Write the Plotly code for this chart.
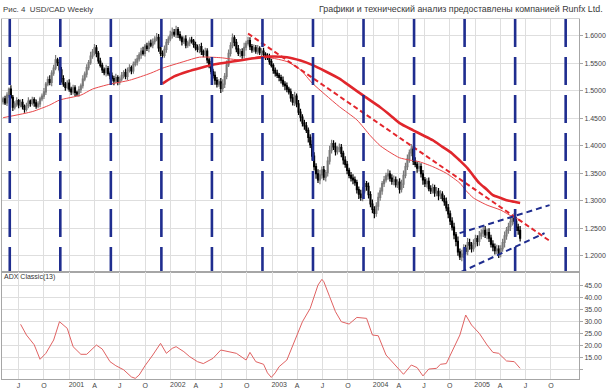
import plotly.graph_objects as go
import pandas as pd

# ---------------- text ----------------
title_left = "Рис. 4  USD/CAD Weekly"
title_right = "Графики и технический анализ предоставлены компанией Runfx Ltd."
adx_label = "ADX Classic(13)"

# ---------------- weekly USD/CAD candles ----------------
first_week = "2000-05-07"
first_open = 1.480
closes = [
    1.485, 1.478, 1.492, 1.503, 1.488, 1.470, 1.476, 1.482, 1.474, 1.479,
    1.471, 1.466, 1.473, 1.481, 1.477, 1.484, 1.478, 1.472, 1.476, 1.485,
    1.490, 1.498, 1.512, 1.520, 1.515, 1.532, 1.541, 1.556, 1.551, 1.538,
    1.522, 1.512, 1.506, 1.514, 1.503, 1.498, 1.505, 1.497, 1.494, 1.502,
    1.509, 1.521, 1.530, 1.542, 1.551, 1.563, 1.570, 1.578, 1.568, 1.554,
    1.546, 1.538, 1.533, 1.540, 1.531, 1.527, 1.522, 1.518, 1.524, 1.516,
    1.521, 1.528, 1.533, 1.526, 1.537, 1.542, 1.536, 1.548, 1.552, 1.558,
    1.565, 1.572, 1.568, 1.581, 1.577, 1.586, 1.583, 1.589, 1.594, 1.597,
    1.578, 1.568, 1.564, 1.575, 1.588, 1.594, 1.601, 1.606, 1.603, 1.611,
    1.602, 1.596, 1.589, 1.594, 1.583, 1.587, 1.592, 1.590, 1.584, 1.578,
    1.575, 1.580, 1.571, 1.566, 1.572, 1.556, 1.548, 1.535, 1.528, 1.519,
    1.512, 1.516, 1.504, 1.512, 1.526, 1.547, 1.568, 1.582, 1.596, 1.588,
    1.576, 1.568, 1.571, 1.564, 1.579, 1.586, 1.591, 1.580, 1.574, 1.578,
    1.572, 1.577, 1.569, 1.572, 1.566, 1.563, 1.561, 1.553, 1.546, 1.537,
    1.532, 1.528, 1.524, 1.519, 1.512, 1.509, 1.503, 1.498, 1.487, 1.479,
    1.490, 1.476, 1.461, 1.452, 1.441, 1.436, 1.428, 1.415, 1.402, 1.381,
    1.362, 1.349, 1.338, 1.347, 1.356, 1.343, 1.351, 1.372, 1.391, 1.404,
    1.398, 1.389, 1.394, 1.397, 1.386, 1.374, 1.366, 1.355, 1.346, 1.341,
    1.338, 1.333, 1.320, 1.312, 1.306, 1.318, 1.331, 1.326, 1.311, 1.294,
    1.284, 1.277, 1.290, 1.306, 1.318, 1.331, 1.338, 1.345, 1.349, 1.341,
    1.335, 1.338, 1.329, 1.334, 1.321, 1.330, 1.346, 1.362, 1.376, 1.387,
    1.394, 1.372, 1.366, 1.359, 1.362, 1.349, 1.338, 1.331, 1.335, 1.322,
    1.318, 1.324, 1.314, 1.317, 1.309, 1.312, 1.304, 1.298, 1.287, 1.276,
    1.263, 1.252, 1.238, 1.226, 1.207, 1.198, 1.203, 1.214, 1.208, 1.224,
    1.219, 1.213, 1.222, 1.231, 1.226, 1.236, 1.241, 1.246, 1.238, 1.242,
    1.232, 1.221, 1.216, 1.209, 1.212, 1.204, 1.213, 1.224, 1.236, 1.246,
    1.253, 1.262, 1.268, 1.263, 1.252, 1.246, 1.232,
]
# wick lengths above / below the candle body, in units of 0.001
up_wick = [
    4, 6, 5, 3, 7, 4, 5, 6, 3, 5,  6, 4, 5, 7, 3, 5, 4, 6, 5, 4,
    5, 7, 4, 6, 8, 5, 6, 9, 4, 6,  5, 6, 4, 5, 7, 4, 6, 5, 3, 6,
    4, 7, 5, 6, 5, 8, 6, 7, 5, 4,  6, 5, 4, 7, 5, 4, 6, 5, 7, 4,
    5, 6, 4, 7, 5, 6, 4, 5, 6, 7,  5, 6, 8, 4, 6, 5, 7, 6, 5, 8,
    6, 4, 5, 7, 6, 5, 8, 9, 6, 7,  5, 6, 4, 5, 7, 4, 5, 6, 4, 5,
    6, 5, 7, 4, 6, 5, 4, 6, 5, 7,  6, 5, 7, 9, 6, 8, 7, 6, 8, 5,
    6, 7, 5, 6, 8, 5, 7, 6, 5, 6,  5, 6, 4, 5, 6, 4, 5, 6, 5, 4,
    5, 6, 4, 5, 7, 5, 6, 4, 6, 7,  8, 5, 7, 6, 5, 6, 7, 5, 6, 8,
    7, 6, 8, 9, 6, 7, 5, 8, 9, 7,  6, 8, 5, 7, 6, 5, 7, 6, 5, 6,
    7, 6, 5, 6, 8, 7, 6, 5, 7, 6,  8, 6, 7, 9, 6, 5, 7, 6, 8, 6,
    7, 8, 6, 5, 7, 8, 9, 7, 8, 6,  9, 6, 7, 5, 8, 6, 7, 5, 6, 7,
    6, 7, 5, 8, 6, 7, 5, 6, 8, 7,  6, 7, 8, 5, 9, 6, 8, 7, 6, 8,
    7, 6, 8, 7, 6, 9, 7, 6, 8, 7,  8, 6, 7, 6, 8, 7, 6, 7, 8, 6,
    7, 8, 6, 9, 7, 6, 8,
]
dn_wick = [
    5, 4, 6, 5, 3, 7, 4, 5, 6, 4,  5, 6, 4, 5, 6, 4, 7, 5, 4, 6,
    4, 5, 6, 4, 5, 7, 5, 4, 6, 5,  7, 5, 6, 4, 5, 6, 5, 7, 4, 5,
    6, 5, 4, 6, 5, 4, 5, 6, 7, 5,  4, 6, 5, 7, 4, 6, 5, 8, 4, 6,
    5, 4, 6, 5, 7, 4, 6, 5, 4, 6,  5, 7, 4, 6, 5, 7, 4, 6, 5, 4,
    7, 6, 5, 4, 6, 5, 4, 6, 5, 7,  6, 5, 7, 4, 6, 5, 6, 4, 6, 5,
    5, 7, 6, 5, 4, 6, 7, 5, 6, 8,  6, 5, 8, 6, 7, 5, 4, 6, 5, 7,
    6, 5, 7, 6, 5, 6, 4, 6, 5, 4,  5, 6, 4, 6, 5, 7, 5, 6, 4, 6,
    6, 5, 7, 6, 5, 8, 6, 5, 7, 6,  7, 6, 5, 8, 6, 7, 5, 9, 6, 8,
    7, 9, 6, 8, 7, 6, 8, 7, 6, 5,  6, 7, 5, 6, 7, 8, 6, 7, 5, 6,
    8, 6, 7, 9, 6, 7, 5, 8, 7, 6,  7, 9, 6, 8, 6, 7, 6, 5, 7, 6,
    6, 7, 5, 6, 8, 6, 7, 5, 6, 7,  6, 7, 5, 8, 6, 7, 9, 6, 7, 5,
    6, 5, 7, 6, 8, 6, 5, 7, 6, 8,  7, 6, 8, 9, 7, 6, 8, 7, 6, 7,
    8, 7, 6, 7, 9, 8, 6, 7, 6, 8,  7, 6, 8, 7, 6, 8, 7, 6, 9, 7,
    6, 8, 7, 6, 7, 8, 6,
]

# ---------------- moving averages (week index -> value) ----------------
thin_ma_week = [0, 15, 24, 29, 40, 46, 55, 65, 76, 82, 93, 101, 112, 122, 133, 146,
                153, 159, 166, 173, 182, 189, 194, 199, 204, 209, 214, 221, 228,
                235, 238, 242, 249, 256, 262, 266]
thin_ma = [1.451, 1.462, 1.474, 1.483, 1.492, 1.503, 1.512, 1.519, 1.532, 1.541,
           1.553, 1.561, 1.560, 1.556, 1.562, 1.553, 1.538, 1.514, 1.492, 1.471,
           1.447, 1.418, 1.400, 1.388, 1.378, 1.374, 1.371, 1.362, 1.350, 1.332,
           1.319, 1.305, 1.292, 1.283, 1.271, 1.265]
thick_ma_week = [82, 88, 95, 101, 109, 118, 127, 136, 146, 153, 159, 166, 173, 179,
                 185, 194, 199, 204, 211, 216, 221, 226, 231, 235, 239, 242, 245,
                 249, 252, 256, 259, 263, 266]
thick_ma = [1.513, 1.526, 1.535, 1.541, 1.548, 1.553, 1.558, 1.562, 1.561, 1.555,
            1.547, 1.535, 1.522, 1.507, 1.492, 1.470, 1.456, 1.441, 1.428, 1.419,
            1.410, 1.398, 1.386, 1.373, 1.359, 1.345, 1.332, 1.320, 1.310, 1.305,
            1.301, 1.298, 1.296]

# ---------------- ADX Classic(13) ----------------
adx_week = [9, 12, 16, 19, 22, 26, 29, 33, 36, 40, 43, 48, 51, 55, 58, 62, 66, 68,
            70, 73, 77, 81, 84, 87, 89, 93, 96, 100, 103, 108, 112, 117, 120, 125,
            127, 130, 134, 136, 138, 140, 142, 146, 149, 153, 154, 158, 162, 164,
            165, 168, 171, 174, 178, 182, 187, 190, 193, 197, 201, 206, 210, 213,
            216, 219, 223, 225, 228, 231, 235, 238, 241, 245, 249, 252, 255, 259,
            263, 266]
adx = [28.9, 24.4, 20.3, 14.2, 16.7, 22.3, 30.0, 27.2, 19.5, 16.3, 16.3, 20.2, 18.5,
       13.2, 11.5, 9.8, 6.8, 6.2, 7.6, 11.5, 16.0, 20.9, 16.7, 18.8, 19.5, 17.4,
       15.3, 13.2, 12.4, 14.6, 18.1, 17.1, 16.7, 13.9, 17.1, 13.2, 12.1, 8.5, 6.6,
       8.5, 11.1, 13.9, 20.2, 28.6, 30.0, 35.6, 45.4, 47.8, 46.8, 40.5, 34.2, 30.0,
       29.0, 31.8, 31.4, 24.4, 24.1, 16.0, 12.5, 7.9, 11.8, 10.7, 7.2, 10.1, 10.4,
       12.1, 12.4, 17.4, 24.4, 32.8, 28.6, 25.1, 20.2, 17.1, 16.7, 13.5, 13.2, 10.4]

# ---------------- drawn lines ----------------
cycle_dates = ["2000-05-31", "2000-11-29", "2001-05-30", "2001-11-28", "2002-05-29",
               "2002-11-27", "2003-05-28", "2003-11-26", "2004-05-26", "2004-11-24",
               "2005-05-25", "2005-11-23"]
red_trend_dates = ["2002-10-06", "2005-10-02"]
red_trend_vals = [1.604, 1.225]
upper_channel_dates = ["2004-11-06", "2005-09-26"]
upper_channel_vals = [1.241, 1.292]
lower_channel_dates = ["2004-11-10", "2005-09-08"]
lower_channel_vals = [1.170, 1.241]

# ---------------- axes ----------------
x_range = ["2000-05-03", "2006-01-10"]
price_range = [1.1704, 1.6304]
price_ticks = [1.20, 1.25, 1.30, 1.35, 1.40, 1.45, 1.50, 1.55, 1.60]
adx_range = [5.92, 50.88]
adx_ticks = [10, 15, 20, 25, 30, 35, 40, 45]
adx_ticktext = ["", "15.00", "20.00", "25.00", "30.00", "35.00", "40.00", "45.00"]
quarter_start, quarter_end = "2000-07-01", "2005-10-01"
month_letters = {1: "", 4: "A", 7: "J", 10: "O"}
year_ticks = ["2001-01-01", "2002-01-01", "2003-01-01", "2004-01-01", "2005-01-01"]
year_labels = ["2001", "2002", "2003", "2004", "2005"]

# ---------------- build ----------------
weeks = pd.date_range(first_week, periods=len(closes), freq="7D")
opens = [first_open] + closes[:-1]
highs = [max(o, c) + w / 1000 for o, c, w in zip(opens, closes, up_wick)]
lows = [min(o, c) - w / 1000 for o, c, w in zip(opens, closes, dn_wick)]
quarters = pd.date_range(quarter_start, quarter_end, freq="QS")
quarter_text = [month_letters[d.month] for d in quarters]

W, H = 609, 391
top, split, bottom = 19, 272, 379
plot_h = bottom - top
split_frac = (bottom - split) / plot_h

FONT = "Liberation Sans, Arial, sans-serif"
GRID = "#dedede"
BORDER = "#a6a6a6"
TXT = "#454545"
NAVY = "#1f2d8f"

fig = go.Figure()

fig.add_trace(go.Candlestick(
    x=weeks, open=opens, high=highs, low=lows, close=closes,
    xaxis="x", yaxis="y",
    increasing=dict(line=dict(color="#7a7a7a", width=1.2), fillcolor="#cfcfcf"),
    decreasing=dict(line=dict(color="#000000", width=1.2), fillcolor="#000000"),
    whiskerwidth=0, showlegend=False, hoverinfo="skip",
))

fig.add_trace(go.Scatter(
    x=weeks[thin_ma_week], y=thin_ma, mode="lines", xaxis="x", yaxis="y",
    line=dict(color="#e8474a", width=1, shape="spline", smoothing=0.6),
    showlegend=False, hoverinfo="skip"))
fig.add_trace(go.Scatter(
    x=weeks[thick_ma_week], y=thick_ma, mode="lines", xaxis="x", yaxis="y",
    line=dict(color="#e0262c", width=2.6, shape="spline", smoothing=0.6),
    showlegend=False, hoverinfo="skip"))

fig.add_trace(go.Scatter(
    x=red_trend_dates, y=red_trend_vals, mode="lines", xaxis="x", yaxis="y",
    line=dict(color="#e3262c", width=2, dash="5px,3px"),
    showlegend=False, hoverinfo="skip"))
for d, v in ((upper_channel_dates, upper_channel_vals), (lower_channel_dates, lower_channel_vals)):
    fig.add_trace(go.Scatter(
        x=d, y=v, mode="lines", xaxis="x", yaxis="y",
        line=dict(color=NAVY, width=2, dash="6px,4px"),
        showlegend=False, hoverinfo="skip"))

# time-cycle lines, drawn top to bottom across the price panel
for d in cycle_dates:
    fig.add_trace(go.Scatter(
        x=[d, d], y=[price_range[1], price_range[0]], mode="lines",
        xaxis="x", yaxis="y", line=dict(color=NAVY, width=2.6, dash="28px,10px"),
        showlegend=False, hoverinfo="skip"))

fig.add_trace(go.Scatter(
    x=weeks[adx_week], y=adx, mode="lines", xaxis="x2", yaxis="y2",
    line=dict(color="#e06262", width=1),
    showlegend=False, hoverinfo="skip"))

tickfont = dict(family=FONT, size=7, color=TXT)

fig.update_layout(
    width=W, height=H,
    margin=dict(l=2, r=W - 579, t=top, b=H - bottom, autoexpand=False),
    paper_bgcolor="white", plot_bgcolor="white",
    showlegend=False, hovermode=False, dragmode=False,
    font=dict(family=FONT, size=7, color=TXT),
    xaxis=dict(domain=[0, 1], anchor="y", type="date", range=x_range,
               tickvals=quarters, showticklabels=False, ticks="",
               showgrid=True, gridcolor=GRID, gridwidth=1,
               showline=True, linecolor=BORDER, mirror=True,
               rangeslider=dict(visible=False), zeroline=False),
    yaxis=dict(domain=[split_frac, 1], anchor="x", side="right", range=price_range,
               tickvals=price_ticks, ticktext=[f"{v:.4f}" for v in price_ticks],
               tickfont=tickfont, ticks="outside", ticklen=3, tickcolor=BORDER,
               showgrid=True, gridcolor=GRID, gridwidth=1,
               showline=True, linecolor=BORDER, mirror=True, zeroline=False),
    xaxis2=dict(domain=[0, 1], anchor="y2", type="date", range=x_range,
                tickvals=quarters, ticktext=quarter_text, tickfont=tickfont,
                ticks="", showgrid=True, gridcolor=GRID, gridwidth=1,
                showline=True, linecolor=BORDER, mirror=True, zeroline=False),
    xaxis3=dict(overlaying="x2", anchor="y2", type="date", range=x_range,
                tickvals=year_ticks, ticktext=year_labels, tickfont=tickfont,
                ticks="", showgrid=False, showline=False, zeroline=False,
                ticklabelshift=7),
    yaxis2=dict(domain=[0, split_frac], anchor="x2", side="right", range=adx_range,
                tickvals=adx_ticks, ticktext=adx_ticktext, tickfont=tickfont,
                ticks="outside", ticklen=3, tickcolor=BORDER,
                showgrid=True, gridcolor=GRID, gridwidth=1,
                showline=True, linecolor=BORDER, mirror=True, zeroline=False),
)

# invisible helper trace so the overlaying year axis is drawn
fig.add_trace(go.Scatter(x=[year_ticks[0]], y=[adx_range[0]], xaxis="x3", yaxis="y2",
                         mode="markers", marker=dict(opacity=0), showlegend=False,
                         hoverinfo="skip"))

# plain white title bar above the plot area
fig.add_shape(type="rect", xref="paper", yref="paper", x0=-0.01, x1=1.06,
              y0=1 + 0.5 / plot_h, y1=1 + (top + 2) / plot_h,
              fillcolor="white", line=dict(width=0), layer="above")

fig.add_annotation(text=title_left, xref="paper", yref="paper", x=0, y=1 + 10 / plot_h,
                   xanchor="left", yanchor="middle", showarrow=False, xshift=-1,
                   font=dict(family=FONT, size=7.9, color="#3a3a3a"))
fig.add_annotation(text=title_right, xref="paper", yref="paper", x=1, y=1 + 10 / plot_h,
                   xanchor="right", yanchor="middle", showarrow=False, xshift=26,
                   font=dict(family=FONT, size=8.9, color="#3a3a3a"))
fig.add_annotation(text=adx_label, xref="paper", yref="paper", x=0,
                   y=split_frac - 5 / plot_h, xanchor="left", yanchor="middle",
                   showarrow=False, xshift=0,
                   font=dict(family=FONT, size=7, color="#333333"))

fig.write_html("out.html", config={"displayModeBar": False, "staticPlot": True},
               post_script="document.body.style.margin='0';")
